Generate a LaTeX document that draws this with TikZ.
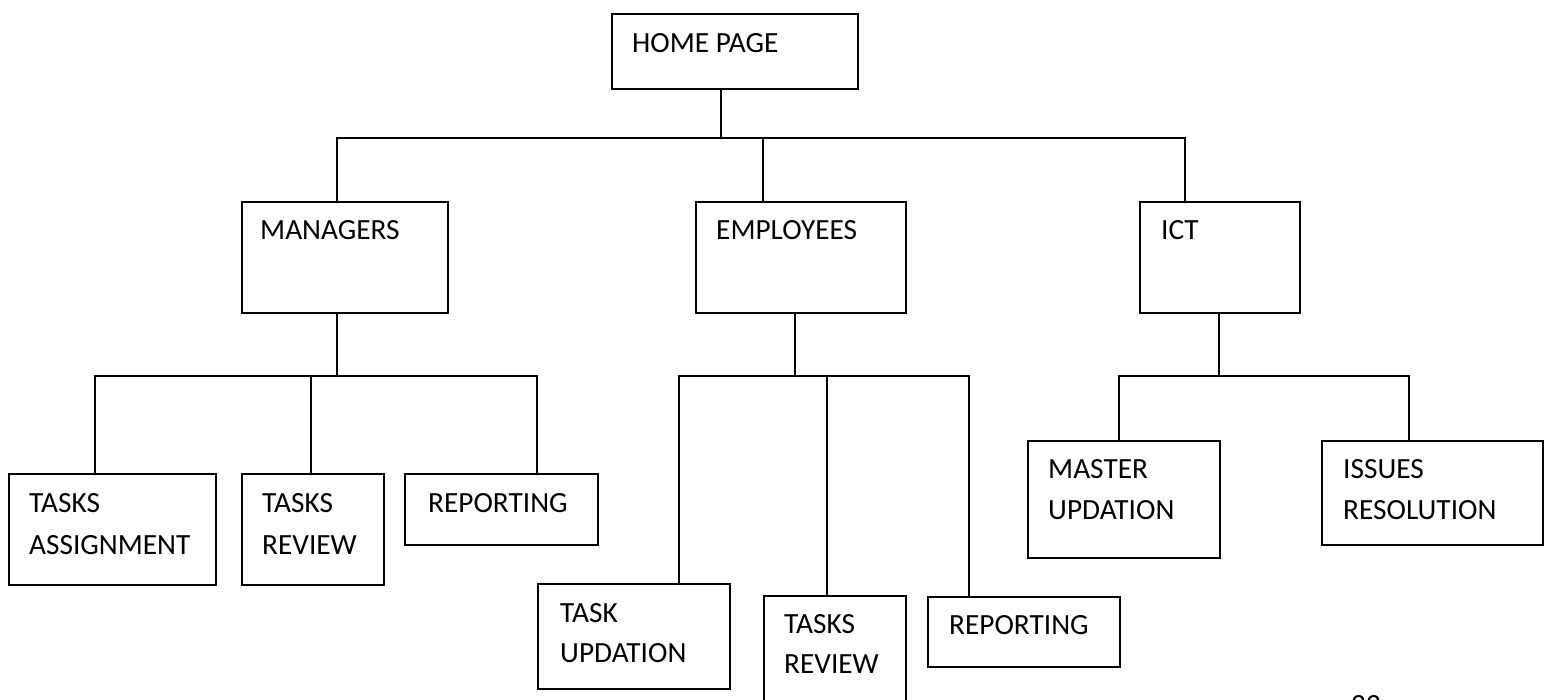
\documentclass[tikz,border=0pt]{standalone}
\usepackage{fontspec}
\setmainfont{Carlito}
\tikzset{
  orgbox/.style={draw, line width=2.2pt, inner sep=0pt, anchor=north west, fill=white},
  lbl/.style={anchor=base west, inner sep=0pt, font=\fontsize{29.3}{40}\selectfont},
  link/.style={line width=2.2pt, line join=miter}
}
% \orgbox{name}{left}{top}{width}{height}
\newcommand\orgbox[5]{\node[orgbox, minimum width=#4pt, minimum height=#5pt] (#1) at (#2,#3) {};}
\begin{document}
\begin{tikzpicture}[x=1pt, y=-1pt]
\useasboundingbox (0,0) rectangle (1549,700);

% boxes
\orgbox{home}{611}{13}{246}{75}
\orgbox{mgr}{241}{201}{206}{111}
\orgbox{emp}{695}{201}{210}{111}
\orgbox{ict}{1139}{201}{160}{111}
\orgbox{ta}{8}{473}{207}{111}
\orgbox{mtr}{241}{473}{142}{111}
\orgbox{mrp}{404}{473}{193}{71}
\orgbox{tu}{537}{583}{192}{105}
\orgbox{etr}{763}{595}{142}{117}
\orgbox{erp}{927}{596}{192}{70}
\orgbox{mu}{1027}{440}{192}{117}
\orgbox{ir}{1321}{440}{221}{104}

% labels
\node[lbl] (home-t) at (632,53) {HOME PAGE};
\node[lbl] (mgr-t) at (260,240) {MANAGERS};
\node[lbl] (emp-t) at (716,240) {EMPLOYEES};
\node[lbl] (ict-t) at (1161,240) {ICT};
\node[lbl] (ta-t1) at (29,512) {TASKS};
\node[lbl] (ta-t2) at (29,554) {ASSIGNMENT};
\node[lbl] (mtr-t1) at (262,512) {TASKS};
\node[lbl] (mtr-t2) at (262,554) {REVIEW};
\node[lbl] (mrp-t) at (428,512) {REPORTING};
\node[lbl] (tu-t1) at (560,622) {TASK};
\node[lbl] (tu-t2) at (560,662) {UPDATION};
\node[lbl] (etr-t1) at (784,633) {TASKS};
\node[lbl] (etr-t2) at (784,673) {REVIEW};
\node[lbl] (erp-t) at (949,634) {REPORTING};
\node[lbl] (mu-t1) at (1048,478) {MASTER};
\node[lbl] (mu-t2) at (1048,519) {UPDATION};
\node[lbl] (ir-t1) at (1343,478) {ISSUES};
\node[lbl] (ir-t2) at (1343,519) {RESOLUTION};
\node[lbl] (pgno) at (1351,714) {22};

% bus junctions
\coordinate (h0) at (721,138);
\coordinate (h1) at (337,138);
\coordinate (h2) at (763,138);
\coordinate (h3) at (1185,138);

\coordinate (m0) at (337,376);
\coordinate (m1) at (95,376);
\coordinate (m2) at (311,376);
\coordinate (m3) at (537,376);

\coordinate (e0) at (795,376);
\coordinate (e1) at (679,376);
\coordinate (e2) at (827,376);
\coordinate (e3) at (969,376);

\coordinate (i0) at (1219,376);
\coordinate (i1) at (1119,376);
\coordinate (i2) at (1409,376);

% connectors
\draw[link] (home.south -| h0) -- (h0);
\draw[link] (mgr.north -| h1) -- (h1) -- (h3) -- (ict.north -| h3);
\draw[link] (h2) -- (emp.north -| h2);

\draw[link] (mgr.south -| m0) -- (m0);
\draw[link] (ta.north -| m1) -- (m1) -- (m3) -- (mrp.north -| m3);
\draw[link] (m2) -- (mtr.north -| m2);

\draw[link] (emp.south -| e0) -- (e0);
\draw[link] (tu.north -| e1) -- (e1) -- (e3) -- (erp.north -| e3);
\draw[link] (e2) -- (etr.north -| e2);

\draw[link] (ict.south -| i0) -- (i0);
\draw[link] (mu.north -| i1) -- (i1) -- (i2) -- (ir.north -| i2);
\end{tikzpicture}
\end{document}
